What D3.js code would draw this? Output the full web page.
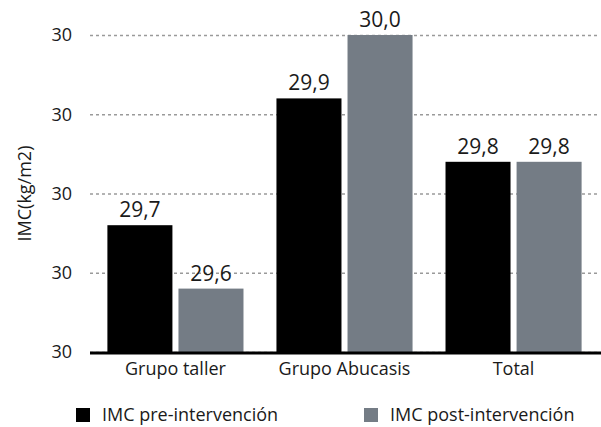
<!DOCTYPE html>
<html>
<head>
<meta charset="utf-8">
<script src="https://cdn.jsdelivr.net/npm/d3@7"></script>
<style>
  html, body { margin: 0; padding: 0; background: #fff; }
  svg text { font-family: "Open Sans", "Noto Sans", sans-serif; fill: #1a1a1a; }
</style>
</head>
<body>
<svg id="chart" width="601" height="427"></svg>
<script>
// Grupos y series de IMC (kg/m2)
const categories = ["Grupo taller", "Grupo Abucasis", "Total"];
const seriesNames = ["IMC pre-intervención", "IMC post-intervención"];
const preValues = [29.7, 29.9, 29.8];
const postValues = [29.6, 30.0, 29.8];
const yTicks = [29.5, 29.625, 29.75, 29.875, 30.0];
const colors = ["#000000", "#747c85"];

const svg = d3.select("#chart");
const margin = { left: 91, right: 3, top: 35, bottom: 75 };
const W = 601, H = 427;

const x0 = d3.scaleBand().domain(categories)
  .range([margin.left, W - margin.right]).paddingInner(0.195).paddingOuter(0.097);
const x1 = d3.scaleBand().domain([0, 1]).range([0, x0.bandwidth()]).paddingInner(0.085);
const y = d3.scaleLinear().domain([29.5, 30.0]).range([H - margin.bottom, margin.top]);

// Líneas de cuadrícula punteadas
const yAxis = d3.axisLeft(y).tickValues(yTicks).tickFormat(d3.format(".0f"))
  .tickSize(-(W - margin.left)).tickPadding(18);
const gy = svg.append("g").attr("transform", `translate(${margin.left - 1},0)`).call(yAxis);
gy.select(".domain").remove();
gy.selectAll(".tick line").attr("stroke", "#9a9a9a").attr("stroke-width", 1.3)
  .attr("stroke-dasharray", "3,3");
gy.selectAll(".tick text").attr("font-size", 18).attr("fill", "#1a1a1a");

// Barras
const rows = categories.map((c, i) => ({ cat: c, vals: [preValues[i], postValues[i]] }));
const groups = svg.selectAll("g.grp").data(rows).join("g").attr("class", "grp")
  .attr("transform", d => `translate(${x0(d.cat)},0)`);
groups.selectAll("rect").data(d => d.vals.map((v, j) => ({ v, j }))).join("rect")
  .attr("x", d => x1(d.j)).attr("width", x1.bandwidth())
  .attr("y", d => y(d.v)).attr("height", d => y(29.5) - y(d.v))
  .attr("fill", d => colors[d.j]);
groups.selectAll("text.val").data(d => d.vals.map((v, j) => ({ v, j }))).join("text")
  .attr("class", "val")
  .attr("x", d => x1(d.j) + x1.bandwidth() / 2).attr("y", d => y(d.v) - 8)
  .attr("text-anchor", "middle").attr("font-size", 21)
  .text(d => d3.format(".1f")(d.v).replace(".", ","));

// Eje X
svg.append("line").attr("x1", margin.left - 1).attr("x2", W)
  .attr("y1", y(29.5) + 1).attr("y2", y(29.5) + 1)
  .attr("stroke", "#000").attr("stroke-width", 3);
svg.selectAll("text.cat").data(categories).join("text").attr("class", "cat")
  .attr("x", d => x0(d) + x0.bandwidth() / 2).attr("y", y(29.5) + 23)
  .attr("text-anchor", "middle").attr("font-size", 18).text(d => d);

// Título del eje Y
svg.append("text").attr("transform", `translate(31,${(y(30) + y(29.5)) / 2}) rotate(-90)`)
  .attr("text-anchor", "middle").attr("font-size", 18).text("IMC(kg/m2)");

// Leyenda
const legendX = [76, 364];
const lg = svg.selectAll("g.leg").data(seriesNames).join("g").attr("class", "leg")
  .attr("transform", (d, i) => `translate(${legendX[i]},408)`);
lg.append("rect").attr("width", 14).attr("height", 14).attr("fill", (d, i) => colors[i]);
lg.append("text").attr("x", 26).attr("y", 13).attr("font-size", 18).text(d => d);
</script>
</body>
</html>
